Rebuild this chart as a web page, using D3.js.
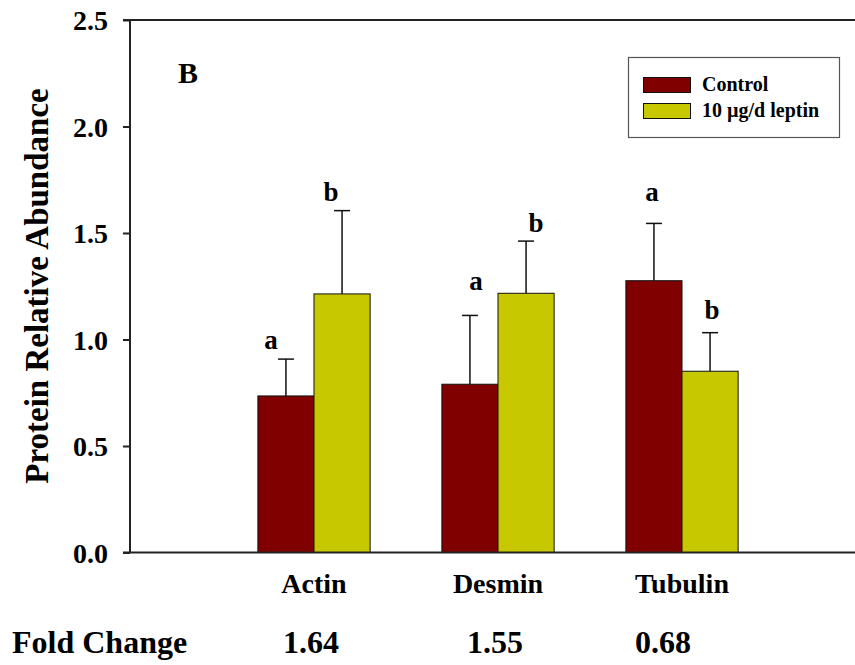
<!DOCTYPE html>
<html>
<head>
<meta charset="utf-8">
<script src="https://cdn.jsdelivr.net/npm/d3@7"></script>
<style>
  html, body { margin: 0; padding: 0; background: #fff; }
  svg { display: block; }
</style>
</head>
<body>
<svg id="chart" width="855" height="665"></svg>
<script>
// Protein relative abundance by treatment
const categories = ["Actin", "Desmin", "Tubulin"];
const seriesNames = ["Control", "10 \u00b5g/d leptin"];
const controlMeans = [0.735, 0.79, 1.276];
const controlErr = [0.173, 0.323, 0.269];
const leptinMeans = [1.214, 1.217, 0.851];
const leptinErr = [0.391, 0.245, 0.181];
const controlLetters = ["a", "a", "a"];
const leptinLetters = ["b", "b", "b"];
const foldChange = ["1.64", "1.55", "0.68"];
const yTicks = [0, 0.5, 1.0, 1.5, 2.0, 2.5];

// Layout
const W = 855, H = 665;
const FONT = '"Liberation Serif"';
const plot = { left: 130, top: 20, bottom: 552.5 };
const barWidthUnits = 0.305;
const colors = ["#800000", "#c8c800"];
// small hand offsets [dx, dy above error cap] for the significance letters
const letterOffsets = [
  [[-15, 10], [6, 25], [-2, 22]],
  [[-11, 10], [10, 9], [2, 14]]
];
const foldOffsets = [-3, -3, -19];

const svg = d3.select("#chart");

// helper: bold serif text
function label(sel, size) {
  return sel.style("font-family", FONT).style("font-weight", "bold")
    .style("font-size", size + "px").attr("fill", "#000");
}

const x = d3.scaleLinear().domain([0, 4]).range([plot.left, plot.left + 4 * 184]);
const y = d3.scaleLinear().domain([0, 2.5]).range([plot.bottom, plot.top]);
const bw = x(barWidthUnits) - x(0);

const series = [
  { means: controlMeans, err: controlErr, letters: controlLetters },
  { means: leptinMeans, err: leptinErr, letters: leptinLetters }
];

// Bars with upper error bars and significance letters
series.forEach((s, si) => {
  const g = svg.append("g");
  const rows = categories.map((c, i) => ({ i, m: s.means[i], e: s.err[i], l: s.letters[i] }));
  const left = d => x(d.i + 1) + (si === 0 ? -bw : 0);
  const cx = d => left(d) + bw / 2;

  g.selectAll("line.err").data(rows).join("line")
    .attr("class", "err")
    .attr("x1", cx).attr("x2", cx)
    .attr("y1", d => y(d.m)).attr("y2", d => y(d.m + d.e))
    .attr("stroke", "#111").attr("stroke-width", 1.5);
  g.selectAll("line.cap").data(rows).join("line")
    .attr("class", "cap")
    .attr("x1", d => cx(d) - 8).attr("x2", d => cx(d) + 8)
    .attr("y1", d => y(d.m + d.e)).attr("y2", d => y(d.m + d.e))
    .attr("stroke", "#111").attr("stroke-width", 1.5);

  g.selectAll("rect").data(rows).join("rect")
    .attr("x", left).attr("width", bw)
    .attr("y", d => y(d.m)).attr("height", d => y(0) - y(d.m))
    .attr("fill", colors[si]).attr("stroke", "#111").attr("stroke-width", 1);

  label(g.selectAll("text.sig").data(rows).join("text"), 27)
    .attr("class", "sig")
    .attr("x", d => cx(d) + letterOffsets[si][d.i][0])
    .attr("y", d => y(d.m + d.e) - letterOffsets[si][d.i][1])
    .attr("text-anchor", "middle")
    .text(d => d.l);
});

// Y axis
const yAxis = d3.axisLeft(y).tickValues(yTicks).tickFormat(d3.format(".1f")).tickSize(7).tickPadding(15);
const ya = svg.append("g").attr("transform", `translate(${plot.left},0)`).call(yAxis)
  .attr("font-family", null).attr("font-size", null);
ya.select(".domain").attr("stroke", "#222").attr("stroke-width", 2).attr("d", `M0,${plot.top}V${plot.bottom}`);
ya.selectAll(".tick line").attr("stroke", "#222").attr("stroke-width", 2);
label(ya.selectAll(".tick text"), 28).attr("dy", "0.34em");

// Top and bottom frame lines
svg.append("line").attr("x1", plot.left - 7).attr("x2", W).attr("y1", y(0)).attr("y2", y(0))
  .attr("stroke", "#222").attr("stroke-width", 2);
svg.append("line").attr("x1", plot.left - 7).attr("x2", W).attr("y1", y(2.5)).attr("y2", y(2.5))
  .attr("stroke", "#222").attr("stroke-width", 2);

// Category labels
label(svg.selectAll("text.cat").data(categories).join("text"), 28)
  .attr("class", "cat")
  .attr("x", (d, i) => x(i + 1))
  .attr("y", 593)
  .attr("text-anchor", "middle")
  .text(d => d);

// Fold change row
label(svg.append("text"), 32).attr("x", 12).attr("y", 653).text("Fold Change");
label(svg.selectAll("text.fold").data(foldChange).join("text"), 32)
  .attr("class", "fold")
  .attr("x", (d, i) => x(i + 1) + foldOffsets[i])
  .attr("y", 653)
  .attr("text-anchor", "middle")
  .text(d => d);

// Y axis title
label(svg.append("text"), 33)
  .attr("transform", `translate(48,286) rotate(-90)`)
  .attr("text-anchor", "middle")
  .text("Protein Relative Abundance");

// Panel letter
label(svg.append("text"), 30).attr("x", 178).attr("y", 83).text("B");

// Legend
const lg = svg.append("g");
lg.append("rect").attr("x", 628.5).attr("y", 57.5).attr("width", 211).attr("height", 80)
  .attr("fill", "#fff").attr("stroke", "#555").attr("stroke-width", 1.2);
seriesNames.forEach((n, i) => {
  lg.append("rect").attr("x", 643.5).attr("y", 77.5 + i * 26).attr("width", 47).attr("height", 15)
    .attr("fill", colors[i]).attr("stroke", "#111").attr("stroke-width", 1);
  label(lg.append("text"), 20).attr("x", 702).attr("y", 91 + i * 26).text(n);
});
</script>
</body>
</html>
